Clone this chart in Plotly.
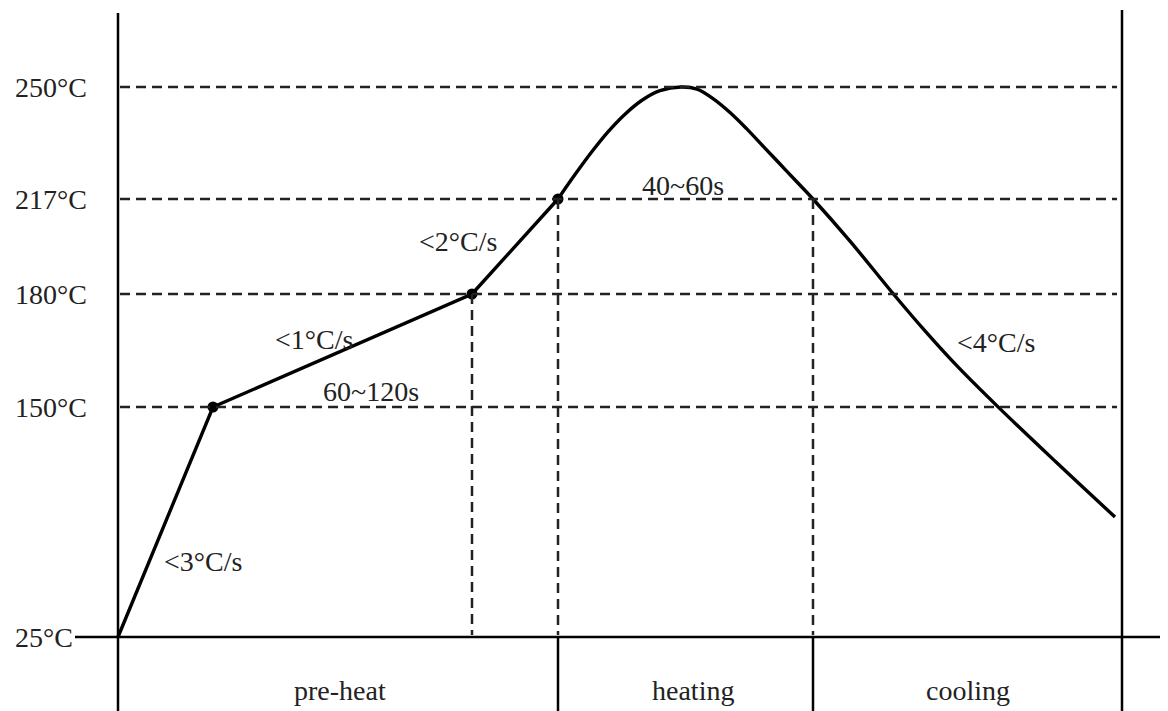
import numpy as np
import plotly.graph_objects as go

# ---------------- data ----------------
# temperature reference levels (deg C) and their labels
levels = [25, 150, 180, 217, 250]
level_labels = ["25°C", "150°C", "180°C", "217°C", "250°C"]

# profile: straight ramp part (time units, temperature)
ramp_t = [0, 95, 354, 440]
ramp_T = [25, 150, 180, 217]

# profile: smooth reflow + cooling part
curve_t = [440, 457, 474, 490, 507, 524, 542, 563, 579, 595, 612, 629, 645,
           662, 679, 695, 732, 775, 807, 839, 879, 938, 997]
curve_T = [217, 224.2, 231.0, 236.8, 242.0, 246.1, 248.9, 250.0, 249.4, 246.6,
           242.5, 237.6, 232.6, 227.3, 222.0, 217, 200.6, 180.2, 170.2, 160.9,
           150.3, 120.1, 90.2]

# key points (dots)
key_t = [95, 354, 440]
key_T = [150, 180, 217]

# vertical dashed markers (time, temp)
vmark_t = [354, 440, 695]
vmark_T = [180, 217, 217]

# phase boundaries and labels
phase_bounds = [440, 695, 1004]
phase_labels = ["pre-heat", "heating", "cooling"]
phase_centers = [222, 575, 850]

# rate / duration annotations: (text, time, temp)
notes_text = ["<3°C/s", "<1°C/s", "60~120s", "<2°C/s", "40~60s", "<4°C/s"]
notes_t = [85, 196, 253, 340, 565, 878]
notes_T = [66, 168, 154, 200.5, 221, 167]

# ---------------- non-linear temperature scale ----------------
scale_pos = [0, 230, 343, 438, 550]  # display position of each level


def ty(T):
    T = np.asarray(T, dtype=float)
    return np.interp(T, levels, scale_pos) + \
        np.where(T > levels[-1], (T - levels[-1]) * 3.39, 0)


font_main = dict(family="Liberation Serif, Times New Roman, serif", size=28, color="#222")
# page has an 8px body margin: the figure spans page pixels 8..1168 x 8..711
X0, X1 = -110, 1050
Y0, Y1 = -74, 629
T_END = 999

fig = go.Figure()

shapes = []
dash = "10px,6px"
for T in levels[1:]:
    y = float(ty(T))
    shapes.append(dict(type="line", xref="x", yref="y", x0=2, x1=T_END, y0=y, y1=y,
                       line=dict(color="#222", width=2.5, dash=dash)))
for t, T in zip(vmark_t, vmark_T):
    shapes.append(dict(type="line", xref="x", yref="y", x0=t, x1=t, y0=float(ty(T)), y1=2,
                       line=dict(color="#222", width=2.5, dash=dash)))
# main axes
shapes.append(dict(type="line", xref="x", yref="y", x0=0, x1=0, y0=624, y1=Y0,
                   line=dict(color="black", width=2.5)))
shapes.append(dict(type="line", xref="x", yref="y", x0=-43, x1=X1, y0=0, y1=0,
                   line=dict(color="black", width=2.5)))
# phase separators
for i, b in enumerate(phase_bounds):
    top = 627 if i == len(phase_bounds) - 1 else 0
    shapes.append(dict(type="line", xref="x", yref="y", x0=b, x1=b, y0=top, y1=Y0,
                       line=dict(color="black", width=2.5)))

fig.add_trace(go.Scatter(x=ramp_t, y=ty(ramp_T), mode="lines",
                         line=dict(color="black", width=3.4), hoverinfo="skip"))
fig.add_trace(go.Scatter(x=curve_t, y=ty(curve_T), mode="lines",
                         line=dict(color="black", width=3.4, shape="spline", smoothing=1.0),
                         hoverinfo="skip"))
fig.add_trace(go.Scatter(x=key_t, y=ty(key_T), mode="markers",
                         marker=dict(color="black", size=11), hoverinfo="skip"))

annotations = []
for T, lab in zip(levels, level_labels):
    annotations.append(dict(x=-105, y=float(ty(T)), xref="x", yref="y", text=lab,
                            showarrow=False, xanchor="left", yanchor="middle", font=font_main))
for txt, t, T in zip(notes_text, notes_t, notes_T):
    annotations.append(dict(x=t, y=float(ty(T)), xref="x", yref="y", text=txt,
                            showarrow=False, xanchor="center", yanchor="middle", font=font_main))
for txt, c in zip(phase_labels, phase_centers):
    annotations.append(dict(x=c, y=-53, xref="x", yref="y", text=txt,
                            showarrow=False, xanchor="center", yanchor="middle", font=font_main))

fig.update_layout(
    width=1160, height=703,
    margin=dict(l=0, r=0, t=0, b=0),
    paper_bgcolor="white", plot_bgcolor="white",
    showlegend=False,
    xaxis=dict(range=[X0, X1], visible=False, fixedrange=True),
    yaxis=dict(range=[Y0, Y1], visible=False, fixedrange=True),
    shapes=shapes,
    annotations=annotations,
)

fig.write_html("out.html")
